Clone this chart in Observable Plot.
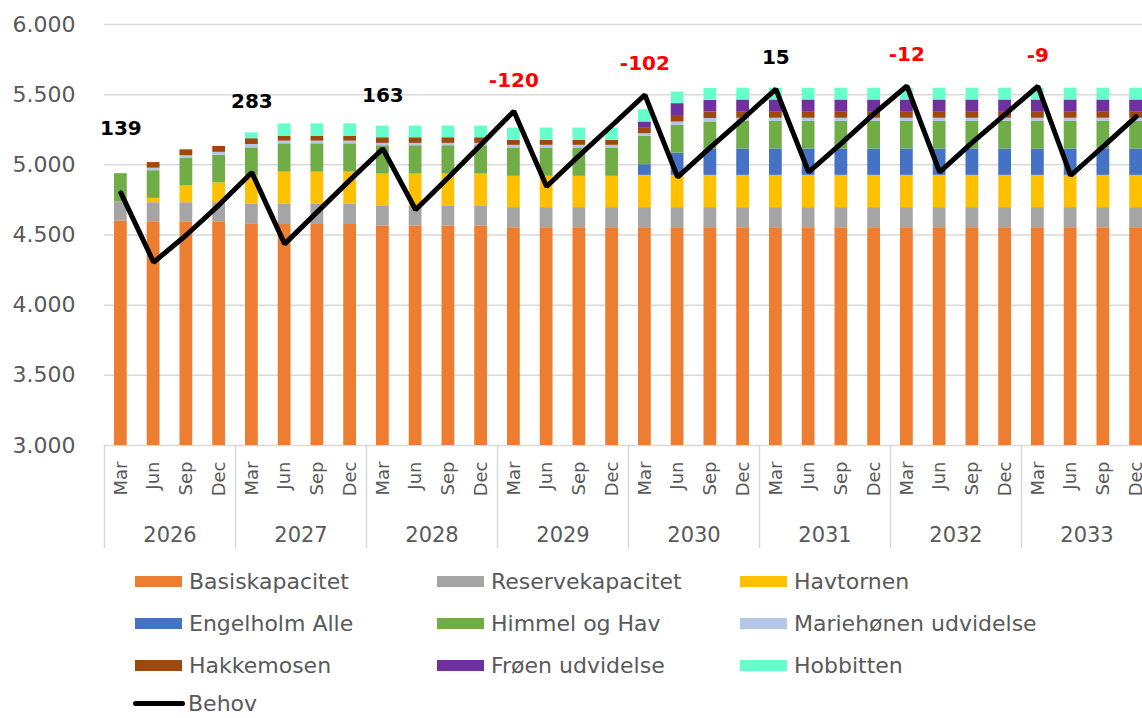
<!DOCTYPE html>
<html>
<head>
<meta charset="utf-8">
<script src="https://cdn.jsdelivr.net/npm/d3@7"></script>
<script src="https://cdn.jsdelivr.net/npm/@observablehq/plot@0.6"></script>
<style>
  html, body { margin: 0; padding: 0; background: #fff; overflow: hidden; }
  body { width: 1142px; height: 718px; font-family: "DejaVu Sans", Verdana, sans-serif; }
  #legend { position: relative; height: 162px; }
  .item { position: absolute; display: flex; align-items: center; font-size: 22px; color: #595959; white-space: nowrap; }
  .sw { width: 47px; height: 11px; margin-right: 7px; }
  .ln { width: 52px; height: 5px; border-radius: 3px; background: #000; margin-right: 3px; }
</style>
</head>
<body>
<div id="chart"></div>
<div id="legend"></div>
<script>
// ---- data ----
const years = [2026, 2027, 2028, 2029, 2030, 2031, 2032, 2033];
const quarters = ["Mar", "Jun", "Sep", "Dec"];

const seriesNames = ["Basiskapacitet", "Reservekapacitet", "Havtornen", "Engelholm Alle", "Himmel og Hav",
  "Mariehønen udvidelse", "Hakkemosen", "Frøen udvidelse", "Hobbitten"];
const seriesColors = ["#ED7D31", "#A5A5A5", "#FFC000", "#4472C4", "#70AD47", "#B4C7E7", "#9E480E", "#7030A0", "#66FFCC"];

const basiskapacitet = [4600, 4590, 4590, 4590, 4580, 4575, 4575, 4575, 4565, 4565, 4565, 4565, 4552, 4552, 4552, 4552,
  4552, 4552, 4552, 4552, 4552, 4552, 4552, 4552, 4552, 4552, 4552, 4552, 4552, 4552, 4552, 4552];
const reservekapacitet = [135, 140, 140, 140, 142, 147, 147, 147, 143, 143, 143, 143, 143, 143, 143, 143,
  143, 143, 143, 143, 143, 143, 143, 143, 143, 143, 143, 143, 143, 143, 143, 143];
const havtornen = [0, 31, 120, 142, 202, 226, 226, 226, 226, 226, 226, 226, 223, 223, 223, 223,
  230, 230, 230, 230, 230, 230, 230, 230, 230, 230, 230, 230, 230, 230, 230, 230];
const engelholm = [0, 0, 0, 0, 0, 0, 0, 0, 0, 0, 0, 0, 0, 0, 0, 0,
  76, 159, 186, 188, 188, 188, 188, 188, 188, 188, 188, 188, 188, 188, 188, 188];
const himmelOgHav = [202, 197, 195, 197, 197, 202, 202, 202, 202, 202, 202, 202, 202, 202, 202, 202,
  202, 197, 195, 197, 197, 197, 197, 197, 197, 197, 197, 197, 197, 197, 197, 197];
const mariehonen = [0, 18, 20, 20, 24, 19, 19, 19, 17, 17, 17, 17, 19, 19, 19, 19,
  19, 24, 24, 22, 22, 22, 22, 22, 22, 22, 22, 22, 22, 22, 22, 22];
const hakkemosen = [0, 40, 42, 42, 41, 33, 33, 33, 40, 40, 40, 40, 35, 35, 35, 35,
  43, 40, 47, 47, 47, 47, 47, 47, 47, 47, 47, 47, 47, 47, 47, 47];
const froen = [0, 0, 0, 0, 0, 0, 0, 0, 0, 0, 0, 0, 0, 0, 0, 0,
  40, 91, 83, 83, 83, 83, 83, 83, 83, 83, 83, 83, 83, 83, 83, 83];
const hobbitten = [0, 0, 0, 0, 42, 90, 90, 90, 83, 83, 83, 83, 88, 88, 88, 88,
  88, 83, 84, 84, 84, 84, 84, 84, 84, 84, 84, 84, 84, 84, 84, 84];

const behov = [4800, 4306, 4500, 4715, 4945, 4437, 4665, 4893, 5115, 4680, 4910, 5145, 5382, 4846, 5067, 5282,
  5498, 4912, 5124, 5330, 5540, 4948, 5153, 5365, 5562, 4948, 5160, 5360, 5560, 4924, 5131, 5343];

// Difference labels shown above each March point
const diffLabels = [139, 283, 163, -120, -102, 15, -12, -9];

// ---- build tables ----
const keys = years.flatMap(y => quarters.map(q => `${q} ${y}`));
const seriesValues = [basiskapacitet, reservekapacitet, havtornen, engelholm, himmelOgHav, mariehonen, hakkemosen, froen, hobbitten];
const stacked = seriesNames.flatMap((s, si) => keys.map((k, i) => ({key: k, series: s, value: seriesValues[si][i]})));
const totals = keys.map((k, i) => d3.sum(seriesValues, arr => arr[i]));
const lineData = keys.map((k, i) => ({key: k, value: behov[i]}));
const labelData = years.map((y, yi) => {
  const i = yi * 4;
  return {key: keys[i], value: Math.max(totals[i], behov[i]), label: diffLabels[yi], first: yi === 0};
});

// ---- layout ----
const W = 1142, H = 556, mTop = 24, mBottom = 111, mLeft = 104;
const xRange = [104, 1152];
const step = (xRange[1] - xRange[0]) / keys.length;
const yDomain = [3000, 6000];
const pxPerUnit = (H - mBottom - mTop) / (yDomain[1] - yDomain[0]);
const sepDepth = 103 / pxPerUnit;

const fmt = d3.formatLocale({decimal: ",", thousands: ".", grouping: [3], currency: ["", ""]}).format(",d");

const labelStyle = d => ({fill: d.label < 0 ? "#FF0000" : "#000000"});

const chart = Plot.plot({
  width: W, height: H,
  marginTop: mTop, marginBottom: mBottom, marginLeft: mLeft, marginRight: 0,
  style: {fontFamily: "DejaVu Sans, Verdana, sans-serif", background: "white"},
  x: {type: "band", domain: keys, range: xRange, paddingInner: 0.61, paddingOuter: 0.305, round: false},
  y: {domain: yDomain},
  color: {domain: seriesNames, range: seriesColors},
  marks: [
    Plot.gridY({ticks: d3.range(3500, 6001, 500), stroke: "#D9D9D9", strokeOpacity: 1, strokeWidth: 1.5}),
    Plot.ruleY([yDomain[0]], {stroke: "#D9D9D9", strokeWidth: 1.5}),
    Plot.axisY({ticks: d3.range(3000, 6001, 500), tickFormat: fmt, tickSize: 0, tickPadding: 29,
      fontSize: 22, fill: "#595959", label: null}),
    Plot.barY(stacked, {x: "key", y: "value", fill: "series", order: seriesNames, clip: true}),
    Plot.lineY(lineData, {x: "key", y: "value", stroke: "#000", strokeWidth: 5, strokeLinejoin: "miter"}),
    Plot.text(labelData.filter(d => !d.first), {x: "key", y: "value", text: d => String(d.label), dy: -31,
      fill: d => labelStyle(d).fill, fontWeight: "bold", fontSize: 20}),
    Plot.text(labelData.filter(d => d.first), {x: "key", y: "value", text: d => String(d.label), dy: -45,
      fill: d => labelStyle(d).fill, fontWeight: "bold", fontSize: 20}),
    Plot.axisX({tickSize: 0, tickPadding: 16, tickRotate: -90, tickFormat: k => k.split(" ")[0],
      fontSize: 18, fill: "#595959", label: null}),
    Plot.ruleX(years, {x: y => `Mar ${y}`, dx: -step / 2, y1: yDomain[0], y2: yDomain[0] - sepDepth,
      stroke: "#D9D9D9", strokeWidth: 1.5}),
    Plot.text(years, {x: y => `Jun ${y}`, dx: step / 2, y: yDomain[0], dy: 90, text: y => String(y),
      fontSize: 21, fill: "#595959"})
  ]
});
document.getElementById("chart").appendChild(chart);

// ---- legend ----
const legend = document.getElementById("legend");
const colX = [135, 437, 740];
const rowY = [27, 69, 111, 149];
seriesNames.forEach((name, i) => {
  const div = document.createElement("div");
  div.className = "item";
  div.style.left = colX[i % 3] + "px";
  div.style.top = (rowY[Math.floor(i / 3)] - 14) + "px";
  div.innerHTML = `<span class="sw" style="background:${seriesColors[i]}"></span><span>${name}</span>`;
  legend.appendChild(div);
});
const bdiv = document.createElement("div");
bdiv.className = "item";
bdiv.style.left = "133px";
bdiv.style.top = (rowY[3] - 14) + "px";
bdiv.innerHTML = `<span class="ln"></span><span>Behov</span>`;
legend.appendChild(bdiv);
</script>
</body>
</html>
